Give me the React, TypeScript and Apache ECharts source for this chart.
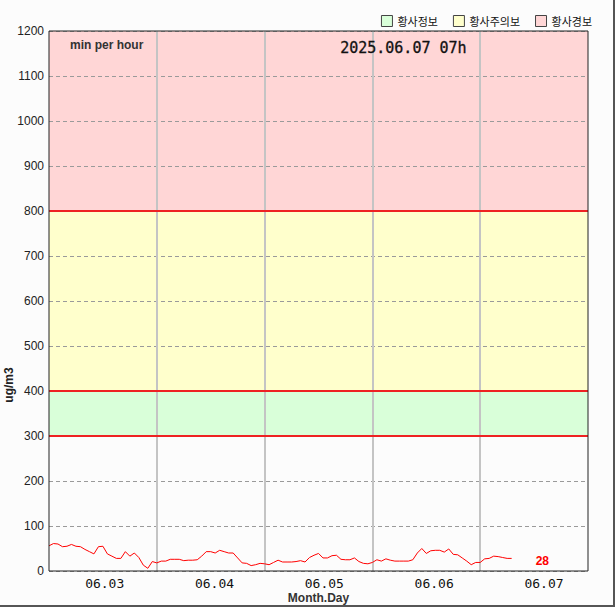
import React, { useEffect, useRef } from 'react';
import * as echarts from 'echarts';

const days = ['06.03', '06.04', '06.05', '06.06', '06.07'];

// hourly values (min per hour), 06.03 00h .. 06.07 07h
const hourlyValues = [
  56, 61, 60, 54, 55, 59, 55, 54, 48, 43, 38, 54, 55, 38, 33, 28, 28, 43, 33, 40, 30, 13, 6, 21,
  18, 22, 22, 26, 26, 26, 23, 24, 24, 25, 33, 43, 43, 40, 46, 43, 40, 40, 29, 18, 17, 12, 14, 17,
  16, 14, 19, 24, 20, 20, 20, 21, 23, 20, 30, 35, 39, 29, 29, 34, 35, 26, 25, 25, 29, 21, 17, 16,
  19, 25, 22, 27, 24, 22, 22, 22, 22, 25, 40, 50, 39, 45, 46, 46, 42, 49, 37, 36, 29, 22, 14, 19,
  19, 27, 28, 33, 32, 30, 28, 28,
];

const bandNames = ['황사정보', '황사주의보', '황사경보'];
const bandLows = [300, 400, 800];
const bandHighs = [400, 800, 1200];
const bandColors = ['#d9ffd9', '#ffffcc', '#ffd6d6'];
const thresholdLines = [300, 400, 800];

const yMin = 0;
const yMax = 1200;
const yStep = 100;

const titleText = '2025.06.07 07h';
const subText = 'min per hour';
const yName = 'ug/m3';
const xName = 'Month.Day';

export default function App() {
  const ref = useRef<HTMLDivElement>(null);
  useEffect(() => {
    document.body.style.margin = '0';
    const chart = echarts.init(ref.current!, null, { renderer: 'svg' });
    const hoursPerDay = 24;
    const totalHours = days.length * hoursPerDay;
    const labelStart = 12.4;
    const labelStep = 24.45;
    const labelPositions = days.map((_, i) => labelStart + i * labelStep);
    const last = hourlyValues[hourlyValues.length - 1];
    const span = (v: number) => [[0, v], [totalHours, v]];
    const tickCount = Math.round((yMax - yMin) / yStep) + 1;
    const splitColors = Array.from({ length: tickCount }, (_, k) =>
      thresholdLines.includes(yMin + k * yStep) ? 'rgba(0,0,0,0)' : '#9a9a9a');

    chart.setOption({
      animation: false,
      backgroundColor: '#fcfcfc',
      grid: {
        left: 49, right: 27, top: 31, bottom: 36,
        outerBoundsMode: 'none', containLabel: false,
        show: true, borderColor: '#222', borderWidth: 1,
        backgroundColor: 'transparent', z: 10,
      },
      legend: {
        data: bandNames,
        right: 18, top: 10,
        itemWidth: 11, itemHeight: 11, itemGap: 15,
        icon: 'rect',
        itemStyle: { borderColor: '#444', borderWidth: 1 },
        textStyle: { fontSize: 11, color: '#111', fontFamily: 'Noto Sans CJK KR' },
      },
      xAxis: [
        {
          type: 'value', min: 0, max: totalHours, interval: hoursPerDay, z: 2,
          position: 'bottom',
          axisLine: { show: false }, axisTick: { show: false }, axisLabel: { show: false },
          splitLine: { show: true, showMinLine: false, showMaxLine: false, lineStyle: { color: '#c4c4c4', width: 2 } },
        },
        {
          type: 'value', min: 0, max: totalHours, position: 'bottom',
          axisLine: { show: false }, axisTick: { show: false }, splitLine: { show: false },
          axisLabel: {
            customValues: labelPositions,
            formatter: (v: number) => days[Math.round((v - labelStart) / labelStep)] ?? '',
            fontFamily: 'DejaVu Sans Mono', fontSize: 13, color: '#111', margin: 6,
          },
          name: xName, nameLocation: 'middle', nameGap: 21, nameMoveOverlap: false,
          nameTextStyle: { fontFamily: 'Liberation Sans', fontSize: 12, fontWeight: 'bold', color: '#333' },
        },
      ],
      yAxis: {
        type: 'value', min: yMin, max: yMax, interval: yStep, z: 2,
        axisLine: { show: false }, axisTick: { show: false },
        axisLabel: { formatter: (v: number) => String(v), fontFamily: 'Liberation Sans', fontSize: 12, color: '#222', margin: 5 },
        splitLine: { show: true, showMinLine: true, showMaxLine: true, lineStyle: { color: splitColors, width: 1, type: [4, 3] } },
      },
      graphic: [
        {
          type: 'text', left: 70, top: 39, z: 100,
          style: { text: subText, font: 'bold 12px "Liberation Sans"', fill: '#333' },
        },
        {
          type: 'text', left: 340, top: 40, z: 100,
          style: { text: titleText, font: '15px "DejaVu Sans Mono"', fill: '#111', stroke: '#111', lineWidth: 0.3 },
        },
        {
          type: 'text', x: 9, y: 385, rotation: Math.PI / 2, z: 100,
          style: { text: yName, font: 'bold 12px "Liberation Sans"', fill: '#222', align: 'center', verticalAlign: 'middle' },
        },
        { type: 'rect', shape: { x: 613, y: 0, width: 2, height: 607 }, style: { fill: '#555' }, z: 100 },
        { type: 'rect', shape: { x: 0, y: 605, width: 615, height: 2 }, style: { fill: '#555' }, z: 100 },
      ],
      series: [
        ...bandNames.map((name, i) => ({
          name, type: 'line', data: [], color: bandColors[i], z: 1,
          markArea: {
            silent: true, z: 1,
            label: { show: false },
            itemStyle: { color: bandColors[i], borderWidth: 0 },
            data: [[{ yAxis: bandLows[i] }, { yAxis: bandHighs[i] }]],
          },
        })),
        ...thresholdLines.map((v, i) => ({
          name: 'threshold' + i, type: 'line', z: 8, silent: true,
          color: '#ee2222',
          data: span(v),
          showSymbol: false, symbol: 'none',
          lineStyle: { color: '#ee2222', width: 2 },
          emphasis: { disabled: true },
        })),
        {
          name: 'value', type: 'line', z: 5,
          data: hourlyValues.map((v, i) => [i, v]),
          showSymbol: false, symbol: 'none',
          lineStyle: { color: '#ff0000', width: 1 },
          endLabel: {
            show: true, formatter: () => String(last),
            color: '#ff0000', fontWeight: 'bold', fontSize: 12, fontFamily: 'Liberation Sans',
            distance: 24, offset: [0, 3],
          },
        },
      ],
    });
    return () => chart.dispose();
  }, []);
  return <div ref={ref} style={{ width: 615, height: 607 }} />;
}
